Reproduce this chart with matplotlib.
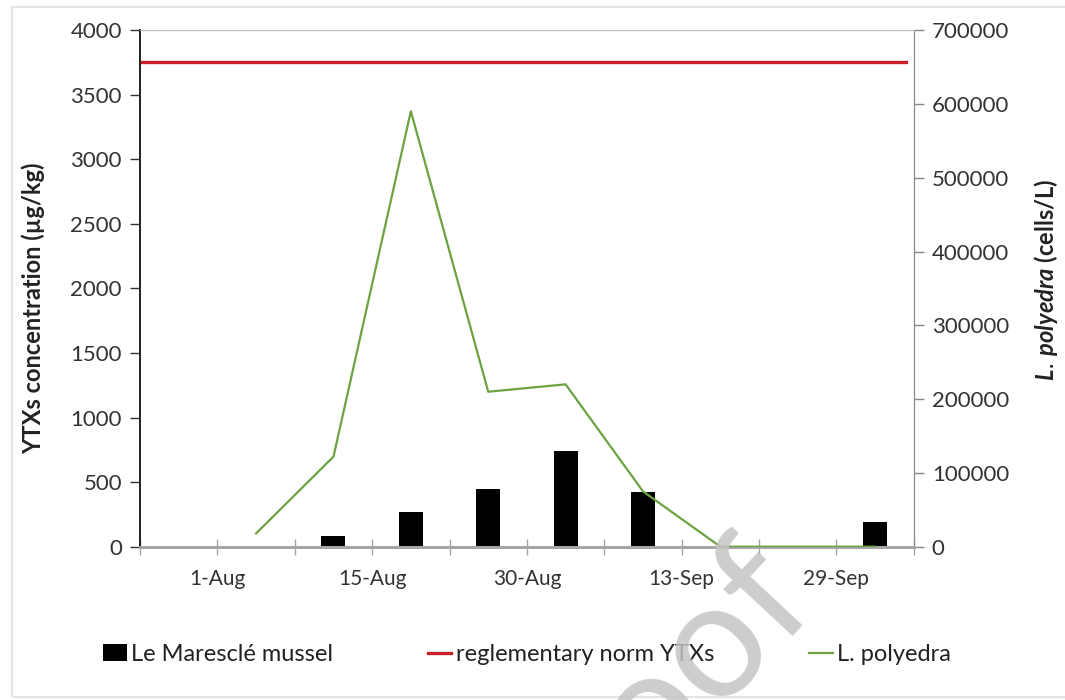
import numpy as np
import matplotlib.pyplot as plt
from matplotlib.patches import Rectangle

plt.rcParams['font.family'] = ['Lato', 'DejaVu Sans']
plt.rcParams['mathtext.fontset'] = 'custom'
plt.rcParams['mathtext.it'] = 'Lato:italic:bold'

# 10 sampling slots on a category axis, labels sit on every other boundary
tick_labels = ['', '1-Aug', '', '15-Aug', '', '30-Aug', '', '13-Sep', '', '29-Sep', '']
mussel = [np.nan, np.nan, 80, 265, 450, 740, 420, np.nan, np.nan, 195]        # YTXs ug/kg
polyedra = [np.nan, 18000, 122000, 590000, 210000, 220000, 75000, 0, 0, 0]  # cells/L
norm_ytx = 3750

pos = np.arange(len(mussel)) + 0.5

fig = plt.figure(figsize=(10.65, 7), dpi=100)
ax = fig.add_axes([0.1315, 0.219, 0.7265, 0.738])
ax2 = ax.twinx()

# light frame of the original page
fig.patches.append(Rectangle((0.011, 0.004), 0.99, 0.986, transform=fig.transFigure,
                             fill=False, edgecolor='#e4e4e4', lw=1.5))

b = ax.bar(pos, mussel, width=0.31, color='black', zorder=2)
r = ax.axhline(norm_ytx, xmin=0, xmax=0.99, color='#c8202a', lw=2.4, zorder=3)
g, = ax2.plot(pos, polyedra, color='#6ca340', lw=1.6, zorder=3)

ax.set_xlim(0, 10)
ax.set_ylim(0, 4000)
ax2.set_ylim(0, 700000)
ax.set_xticks(np.arange(11))
ax.set_xticklabels(tick_labels)
ax.set_yticks(np.arange(0, 4001, 500))
ax2.set_yticks(np.arange(0, 700001, 100000))

ax.tick_params(axis='x', direction='inout', length=12, width=1, color='#a6a6a6',
               labelsize=15, pad=10, labelcolor='#333333')
ax.tick_params(axis='y', direction='out', length=7, width=1, color='#333333',
               labelsize=16, pad=6, labelcolor='#333333')
ax2.tick_params(axis='y', direction='out', length=7, width=1, color='#888888',
                labelsize=16, pad=6, labelcolor='#333333')

for a in (ax, ax2):
    a.spines['top'].set_color('#bdbdbd')
    a.spines['bottom'].set_color('#a6a6a6')
    a.spines['bottom'].set_linewidth(2)
    a.spines['left'].set_color('#222222')
    a.spines['left'].set_linewidth(1.3)
    a.spines['right'].set_color('#8a8a8a')

fig.text(0.031, 0.56, 'YTXs concentration (µg/kg)', rotation=90, fontsize=17,
         fontweight='bold', color='#222222', ha='center', va='center')
fig.text(0.982, 0.60, r'$\mathit{L.\,polyedra}$ (cells/L)', rotation=90,
         fontsize=17, fontweight='bold', color='#222222', ha='center', va='center')

fig.legend([b, r, g], ['Le Maresclé mussel', 'reglementary norm YTXs', 'L. polyedra'],
           loc='center', bbox_to_anchor=(0.495, 0.065), ncol=3,
           frameon=False, fontsize=17, handlelength=1.0, handleheight=0.7,
           handletextpad=0.2, columnspacing=4.0, labelcolor='#222222')

# watermark from the source page
fig.text(0.787, 0.035, 'roof', rotation=47, fontsize=118, color='#c4c4c4', alpha=0.85,
         ha='right', va='center', zorder=10)

fig.savefig('out.png', dpi=100)
